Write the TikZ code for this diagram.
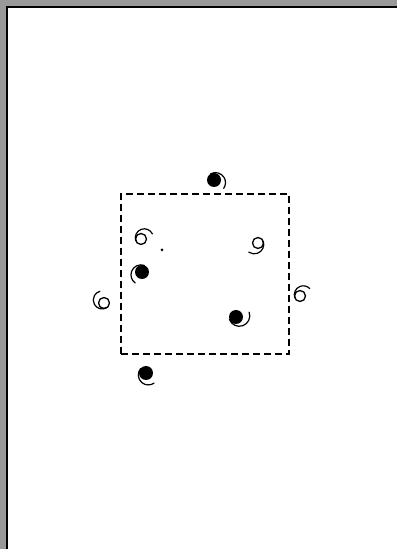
\documentclass[tikz,border=0pt]{standalone}
\begin{document}
\begin{tikzpicture}[x=1pt, y=1pt,
    galfull/.style={circle, fill, inner sep=0pt, outer sep=0pt, minimum size=14pt},
    galopen/.style={circle, draw, line width=1.3pt, inner sep=0pt, outer sep=0pt, minimum size=11pt},
    tail/.style={line width=1.2pt, line cap=round},
    framebox/.style={draw, line width=1.6pt, dash pattern=on 7pt off 4pt, minimum width=168pt, minimum height=160pt}]
    % Page
    \useasboundingbox (0,0) rectangle (397,549);
    \fill[black!40] (0,0) rectangle (397,549);
    \fill[white] (7,0) rectangle (397,542);
    \draw[line width=2pt] (7,0) -- (7,542) -- (397,542);
    % Nodes
    \node[framebox] (box) at (205,275) {};
    \node[galfull] (f1) at (214,369) {};
    \node[galfull] (f2) at (142,277) {};
    \node[galfull] (f3) at (236,232) {};
    \node[galfull] (f4) at (146,176) {};
    \node[galopen] (o1) at (141,310) {};
    \node[galopen] (o2) at (258,306) {};
    \node[galopen] (o3) at (104,246) {};
    \node[galopen] (o4) at (300,253) {};
    \node[circle, fill, inner sep=0pt, minimum size=3pt] (d1) at (162,299) {};
    % Tails
    \draw[tail] (f1.120) arc[start angle=120, delta angle=-155, radius=10pt];
    \draw[tail] (f2.70) arc[start angle=70, delta angle=165, radius=10pt];
    \draw[tail] (f3.200) arc[start angle=200, delta angle=180, radius=10.5pt];
    \draw[tail] (f4.140) arc[start angle=140, delta angle=165, radius=10pt];
    \draw[tail] (o1.200) arc[start angle=200, delta angle=-175, radius=9pt];
    \draw[tail] (o2.20) arc[start angle=20, delta angle=-145, radius=9.5pt];
    \draw[tail] (o3.300) arc[start angle=300, delta angle=-195, radius=9pt];
    \draw[tail] (o4.200) arc[start angle=200, delta angle=-155, radius=9pt];
\end{tikzpicture}
\end{document}
